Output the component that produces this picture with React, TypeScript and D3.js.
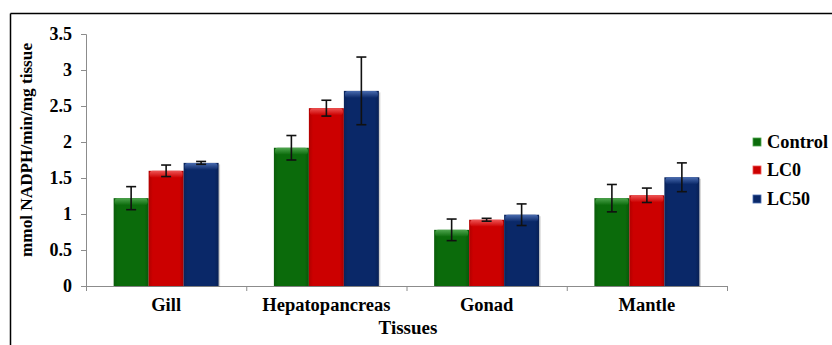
import * as d3 from 'd3';
import React, { useEffect, useRef } from 'react';

const tissues = ['Gill', 'Hepatopancreas', 'Gonad', 'Mantle'];
const groups = ['Control', 'LC0', 'LC50'];
const controlVals = [1.22, 1.92, 0.78, 1.22];
const lc0Vals = [1.60, 2.47, 0.92, 1.26];
const lc50Vals = [1.71, 2.71, 0.99, 1.51];
const controlErr = [0.16, 0.17, 0.15, 0.19];
const lc0Err = [0.08, 0.11, 0.02, 0.10];
const lc50Err = [0.02, 0.47, 0.15, 0.20];
const yTicks = [0, 0.5, 1, 1.5, 2, 2.5, 3, 3.5];

const colors = ['#0b6b0b', '#cc0000', '#0a2868'];
const lights = ['#4ea54e', '#ee5555', '#4a6cb0'];

const W = 832;
const H = 345;

export default function App() {
  const ref = useRef<SVGSVGElement>(null);

  useEffect(() => {
    const svg = d3.select(ref.current);
    svg.selectAll('*').remove();

    const left = 86, right = 727, top = 34, bottom = 286;

    const vals = [controlVals, lc0Vals, lc50Vals];
    const errs = [controlErr, lc0Err, lc50Err];

    const y = d3.scaleLinear().domain([0, 3.5]).range([bottom, top]);
    const x0 = d3.scaleBand().domain(tissues).range([left, right]).padding(0);
    const x1 = d3.scaleBand().domain(groups).range([0, x0.bandwidth()])
      .paddingInner(0).paddingOuter(0.79);

    const defs = svg.append('defs');
    groups.forEach((g, i) => {
      const lg = defs.append('linearGradient').attr('id', 'top' + i)
        .attr('x1', 0).attr('y1', 0).attr('x2', 0).attr('y2', 1);
      lg.append('stop').attr('offset', '0%').attr('stop-color', lights[i]);
      lg.append('stop').attr('offset', '100%').attr('stop-color', colors[i]);
      const sg = defs.append('linearGradient').attr('id', 'side' + i)
        .attr('x1', 0).attr('y1', 0).attr('x2', 1).attr('y2', 0);
      sg.append('stop').attr('offset', '0%').attr('stop-color', d3.color(colors[i])!.darker(0.4).toString());
      sg.append('stop').attr('offset', '12%').attr('stop-color', colors[i]);
      sg.append('stop').attr('offset', '88%').attr('stop-color', colors[i]);
      sg.append('stop').attr('offset', '100%').attr('stop-color', d3.color(colors[i])!.darker(0.6).toString());
    });

    // frame
    svg.append('line').attr('x1', 10.5).attr('x2', W).attr('y1', 13.5).attr('y2', 13.5)
      .attr('stroke', '#000').attr('stroke-width', 1.5);
    svg.append('line').attr('x1', 10.5).attr('x2', 10.5).attr('y1', 13.5).attr('y2', H)
      .attr('stroke', '#000').attr('stroke-width', 1.5);

    // y axis
    const ya = svg.append('g').attr('transform', `translate(${left},0)`)
      .call(d3.axisLeft(y).tickValues(yTicks).tickSize(5).tickPadding(9)
        .tickFormat(d => String(d)));
    ya.attr('font-family', null).attr('font-size', null);
    ya.select('.domain').attr('stroke', '#8c8c8c');
    ya.selectAll('.tick line').attr('stroke', '#8c8c8c');
    ya.selectAll('.tick text').attr('font-weight', 'bold')
      .attr('font-size', 18).attr('fill', '#000');

    // x axis
    const xa = svg.append('g').attr('transform', `translate(0,${bottom})`);
    xa.append('line').attr('x1', left).attr('x2', right).attr('y1', 0.5).attr('y2', 0.5)
      .attr('stroke', '#8c8c8c');
    const bounds = tissues.map(t => x0(t)!).concat([right]);
    xa.selectAll('line.tk').data(bounds).enter().append('line').attr('class', 'tk')
      .attr('x1', d => d + 0.5).attr('x2', d => d + 0.5).attr('y1', 0).attr('y2', 5)
      .attr('stroke', '#8c8c8c');
    xa.selectAll('text').data(tissues).enter().append('text')
      .attr('x', d => x0(d)! + x0.bandwidth() / 2).attr('y', 25)
      .attr('text-anchor', 'middle').attr('font-weight', 'bold')
      .attr('font-size', 18.5).text(d => d);

    // bars
    const gs = svg.append('g');
    groups.forEach((g, i) => {
      tissues.forEach((t, j) => {
        const bx = x0(t)! + x1(g)!;
        const by = y(vals[i][j]);
        const bw = x1.bandwidth();
        gs.append('rect').attr('x', bx + 1.5).attr('y', by + 1.5).attr('width', bw)
          .attr('height', bottom - by - 1).attr('fill', '#000').attr('opacity', 0.18);
        gs.append('rect').attr('x', bx).attr('y', by).attr('width', bw)
          .attr('height', bottom - by).attr('fill', `url(#side${i})`);
        gs.append('rect').attr('x', bx + 1).attr('y', by).attr('width', bw - 2)
          .attr('height', Math.min(7, bottom - by)).attr('rx', 3)
          .attr('fill', `url(#top${i})`);
      });
    });

    // error bars
    const eg = svg.append('g').attr('stroke', '#111').attr('stroke-width', 1.6);
    groups.forEach((g, i) => {
      tissues.forEach((t, j) => {
        const cx = x0(t)! + x1(g)! + x1.bandwidth() / 2;
        const hi = y(vals[i][j] + errs[i][j]);
        const lo = y(vals[i][j] - errs[i][j]);
        eg.append('line').attr('x1', cx).attr('x2', cx).attr('y1', hi).attr('y2', lo);
        eg.append('line').attr('x1', cx - 5).attr('x2', cx + 5).attr('y1', hi).attr('y2', hi);
        eg.append('line').attr('x1', cx - 5).attr('x2', cx + 5).attr('y1', lo).attr('y2', lo);
      });
    });

    // titles
    svg.append('text').attr('transform', `translate(32,150) rotate(-90)`)
      .attr('text-anchor', 'middle').attr('font-weight', 'bold')
      .attr('font-size', 17).attr('textLength', 214).attr('lengthAdjust', 'spacingAndGlyphs')
      .text('mmol NADPH/min/mg tissue');
    svg.append('text').attr('x', 408).attr('y', 334).attr('text-anchor', 'middle')
      .attr('font-weight', 'bold').attr('font-size', 19)
      .text('Tissues');

    // legend
    const lgY = [142, 170, 199];
    const leg = svg.append('g');
    groups.forEach((g, i) => {
      leg.append('rect').attr('x', 753).attr('y', lgY[i] - 4).attr('width', 8).attr('height', 8)
        .attr('fill', colors[i]).attr('stroke', lights[i]).attr('stroke-width', 0.8);
      const t = leg.append('text').attr('x', 767).attr('y', lgY[i] + 6)
        .attr('font-weight', 'bold').attr('font-size', 18).text(g);
      if (i === 0) t.attr('textLength', 61).attr('lengthAdjust', 'spacingAndGlyphs');
    });
  }, []);

  return (
    <div style={{ position: 'fixed', left: 0, top: 0, width: W, height: H, overflow: 'hidden' }}>
      <svg ref={ref} width={W} height={H}
        style={{ display: 'block', background: '#fff', fontFamily: "'Liberation Serif', 'Times New Roman', serif" }} />
    </div>
  );
}
